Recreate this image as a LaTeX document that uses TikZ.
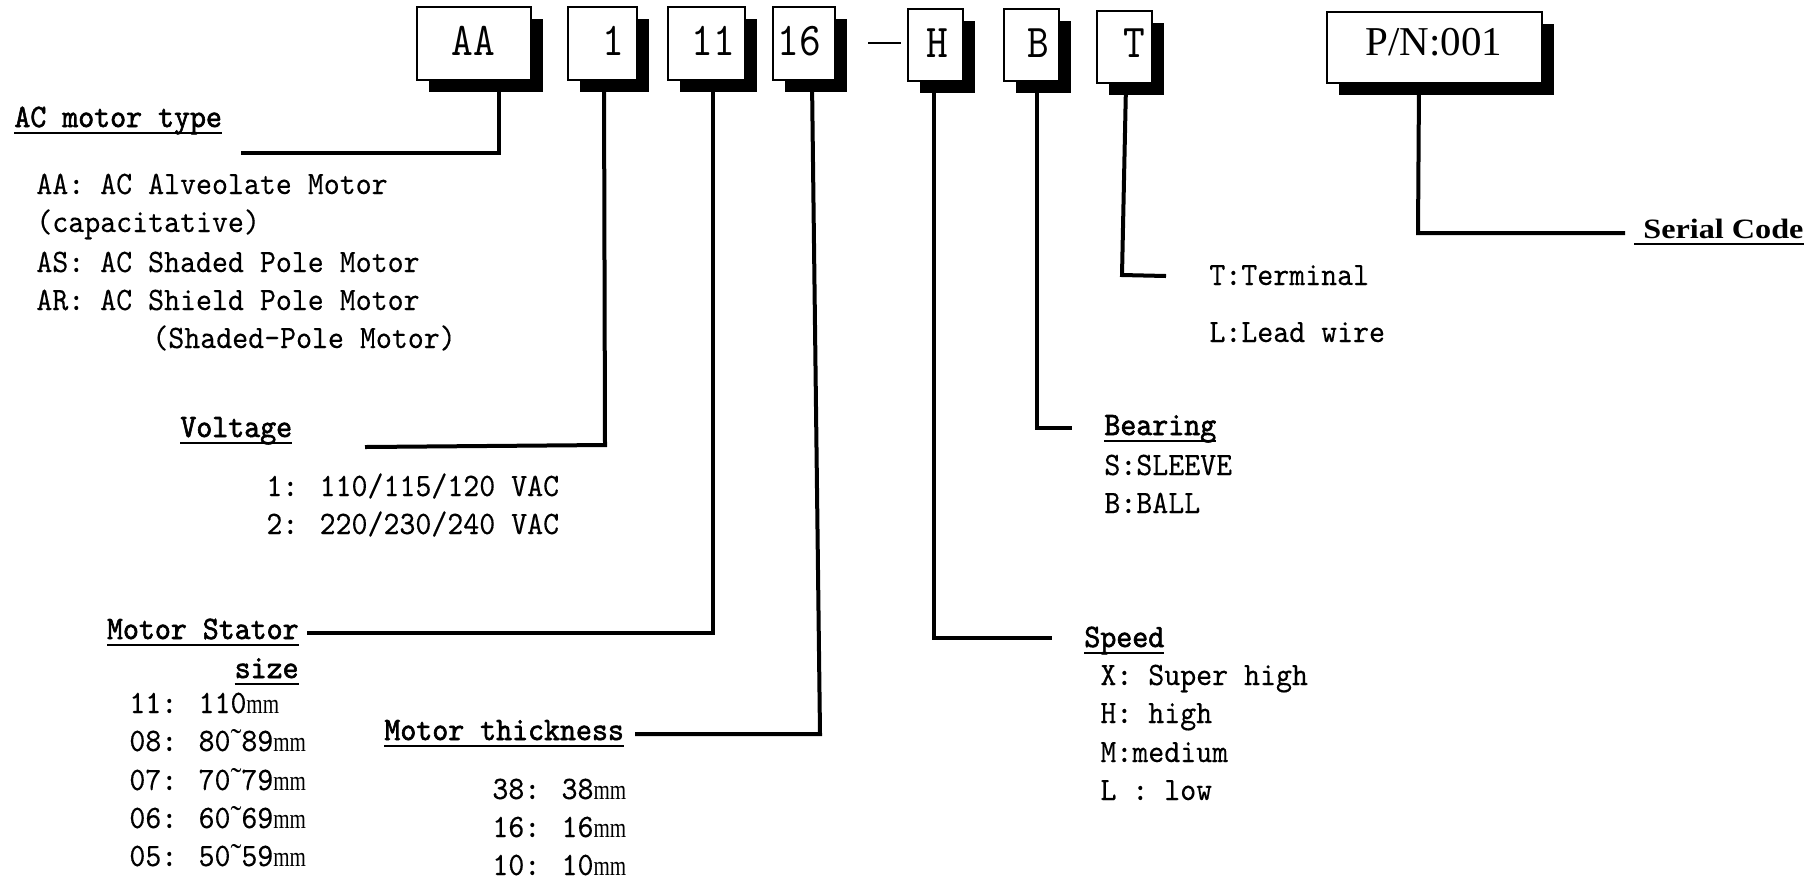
\documentclass[tikz,border=0pt]{standalone}
\usepackage{fontspec}
\setmainfont{Liberation Serif}
\newfontfamily\monof{lmmono10-regular}[Extension=.otf, FakeStretch=0.93, FakeBold=0.2]
\newfontfamily\monobox{lmmono10-regular}[Extension=.otf, FakeStretch=0.88]
\newfontfamily\monobf{lmmono10-regular}[Extension=.otf, FakeStretch=0.93, FakeBold=1.8]
\newfontfamily\serbf{Liberation Serif Bold}[FakeStretch=1.15]
\newfontfamily\mmf{Liberation Serif}[FakeStretch=0.75]
\newfontfamily\tlf{Liberation Serif}
\usetikzlibrary{shadows}
\newcommand\hdul[1]{\setbox0\hbox{#1}\leavevmode\rlap{\rule[-3.5pt]{\wd0}{1.1pt}}\box0}
\newcommand\mm{{\mmf\fontsize{14}{16}\selectfont mm}}
\newcommand\tl{{\tlf ˜}}
\tikzset{
  lbl/.style={inner sep=0pt, anchor=base west, font=\monof\fontsize{16.35}{19}\selectfont},
  hd/.style={lbl, font=\monobf\fontsize{16.35}{19}\selectfont},
  hdr/.style={hd, anchor=base east},
  codebox/.style={draw, line width=1.3pt, fill=white, inner sep=0pt,
    drop shadow={shadow xshift=6pt, shadow yshift=-6pt, opacity=1, fill=black}},
  boxtxt/.style={inner sep=0pt, anchor=base, font=\monobox\fontsize{23.5}{27}\selectfont},
  conn/.style={line width=2pt, line join=miter}
}
\begin{document}
\begin{tikzpicture}[x=0.5pt,y=-0.5pt]
\useasboundingbox (0,0) rectangle (1819,880);
% code boxes
\node[codebox, minimum width=57pt, minimum height=36.5pt] (aa) at (474,43.5) {};
\node[codebox, minimum width=34.5pt, minimum height=36.5pt] (v) at (602.5,43.5) {};
\node[codebox, minimum width=38.5pt, minimum height=36.5pt] (st) at (706.5,43.5) {};
\node[codebox, minimum width=31pt, minimum height=36.5pt] (th) at (804,43.5) {};
\node[codebox, minimum width=27.5pt, minimum height=36pt] (sp) at (935.5,45) {};
\node[codebox, minimum width=27.5pt, minimum height=36pt] (be) at (1031.5,45) {};
\node[codebox, minimum width=27.5pt, minimum height=36pt] (te) at (1124.5,47) {};
\node[codebox, minimum width=107.5pt, minimum height=35.5pt] (pn) at (1434.5,47.5) {};
% box texts
\node[boxtxt] (aat) at (473,55) {AA};
\node[boxtxt] (vt) at (613,55) {1};
\node[boxtxt] (stt) at (713,55) {11};
\node[boxtxt] (tht) at (799,55) {16};
\node[inner sep=0pt] (dash) at (884.5,43) {\rule{16.5pt}{1.3pt}};
\node[boxtxt] (spt) at (937,57) {H};
\node[boxtxt] (bet) at (1038,57) {B};
\node[boxtxt] (tet) at (1134,57) {T};
\node[inner sep=0pt, anchor=base, font=\fontsize{20.5}{24}\selectfont] (pnt) at (1434,55) {P/N:001};
% labels
\node[hd] (typ) at (14,127) {\hdul{AC motor type}};
\node[lbl] (aa1) at (36,194) {AA: AC Alveolate Motor};
\node[lbl] (aa2) at (36,232) {(capacitative)};
\node[lbl] (aa3) at (36,272) {AS: AC Shaded Pole Motor};
\node[lbl] (aa4) at (36,310) {AR: AC Shield Pole Motor};
\node[lbl] (aa5) at (152,348) {(Shaded-Pole Motor)};
\node[hd] (vol) at (180,437) {\hdul{Voltage}};
\node[lbl] (v1) at (266,496) {1: 110/115/120 VAC};
\node[lbl] (v2) at (266,534) {2: 220/230/240 VAC};
\node[hdr] (sta) at (299,639) {\hdul{Motor Stator}};
\node[hdr] (stb) at (299,678) {\hdul{size}};
\node[lbl] (s1) at (129,713) {11: 110\mm};
\node[lbl] (s2) at (129,751) {08: 80\tl89\mm};
\node[lbl] (s3) at (129,790) {07: 70\tl79\mm};
\node[lbl] (s4) at (129,828) {06: 60\tl69\mm};
\node[lbl] (s5) at (129,866) {05: 50\tl59\mm};
\node[hd] (thk) at (384,740) {\hdul{Motor thickness}};
\node[lbl] (t1) at (492,799) {38: 38\mm};
\node[lbl] (t2) at (492,837) {16: 16\mm};
\node[lbl] (t3) at (492,875) {10: 10\mm};
\node[hd] (spd) at (1084,647) {\hdul{Speed}};
\node[lbl] (p1) at (1100,685) {X: Super high};
\node[lbl] (p2) at (1100,723) {H: high};
\node[lbl] (p3) at (1100,762) {M:medium};
\node[lbl] (p4) at (1100,800) {L : low};
\node[hd] (brg) at (1104,435) {\hdul{Bearing}};
\node[lbl] (b1) at (1104,475) {S:SLEEVE};
\node[lbl] (b2) at (1104,513) {B:BALL};
\node[lbl] (tm1) at (1209,285) {T:Terminal};
\node[lbl] (tm2) at (1209,342) {L:Lead wire};
\node[inner sep=0pt, anchor=base west, font=\serbf\fontsize{14}{17}\selectfont] (ser) at (1634,238) {\hdul{\hspace{4.5pt}Serial Code}};
% connector ends
\coordinate (aae) at (241,153);
\coordinate (vk) at (605,445);
\coordinate (ve) at (365,447);
\coordinate (ste) at (307,633);
\coordinate (thk1) at (820,734);
\coordinate (the) at (635,734);
\coordinate (spe) at (1052,638);
\coordinate (bee) at (1072,428);
\coordinate (tek) at (1122,275);
\coordinate (tee) at (1166,276);
\coordinate (pnk) at (1418,233);
\coordinate (pne) at (1625,233);
% connectors
\draw[conn] ([xshift=12.5pt]aa.south) |- (aae);
\draw[conn] ([xshift=0.75pt]v.south) -- (vk) -- (ve);
\draw[conn] ([xshift=3.25pt]st.south) |- (ste);
\draw[conn] ([xshift=4pt]th.south) -- (thk1) -- (the);
\draw[conn] ([xshift=-0.75pt]sp.south) |- (spe);
\draw[conn] ([xshift=2.75pt]be.south) |- (bee);
\draw[conn] ([xshift=0.75pt]te.south) -- (tek) -- (tee);
\draw[conn] ([xshift=-7.75pt]pn.south) -- (pnk) -- (pne);
\end{tikzpicture}
\end{document}
